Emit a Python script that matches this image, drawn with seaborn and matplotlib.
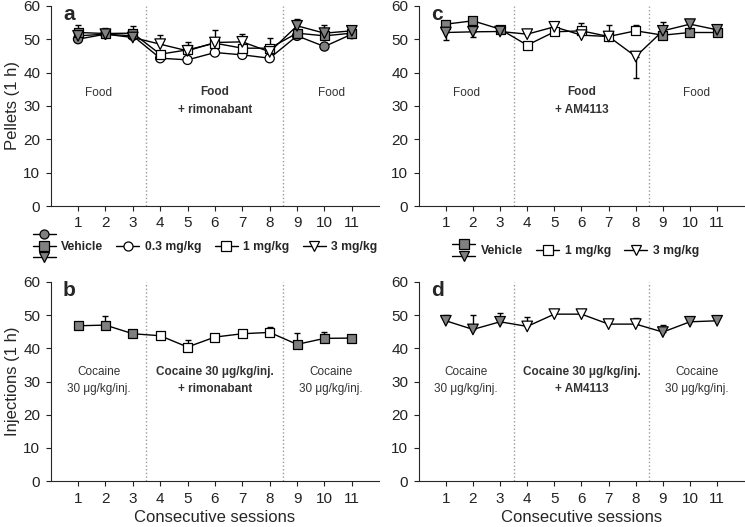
import numpy as np
import pandas as pd
import matplotlib
matplotlib.use("Agg")
import matplotlib.pyplot as plt
from matplotlib.lines import Line2D
from matplotlib.legend_handler import HandlerBase
import seaborn as sns

# data
sessions = list(range(1, 12))
phase = ["base"] * 3 + ["drug"] * 5 + ["base"] * 3

# panel a: food + rimonabant (pellets)
a_03 = [50.0, 51.5, 51.0, 44.3, 43.8, 46.0, 45.3, 44.3, 51.0, 47.8, 51.5]
a_1 = [52.0, 51.7, 51.8, 45.5, 46.8, 48.8, 47.3, 47.3, 51.8, 51.0, 51.8]
a_3 = [51.0, 51.5, 50.5, 48.5, 46.5, 49.0, 49.2, 46.2, 54.0, 51.8, 52.5]
a_1_err = [2.3, 1.5, 2.0, 0, 0, 0, 0, 0, 0, 0, 1.8]       # + up, - down
a_3_err = [0, 0, 0, 2.8, 2.6, 3.6, 2.3, 4.1, 2.1, 2.5, 0]

# panel c: food + AM4113 (pellets)
c_1 = [54.5, 55.5, 53.0, 48.2, 52.2, 52.5, 50.8, 52.5, 51.2, 52.0, 52.0]
c_3 = [52.0, 52.2, 52.3, 51.5, 53.7, 51.2, 50.8, 44.8, 52.5, 54.5, 52.8]
c_1_err = [0, 0, 0, 0, 0, 2.3, 0, 1.8, 0, 0, 0]
c_3_err = [-2.2, -1.6, 0, 1.5, 0, 0, 3.3, -6.5, 2.7, 0, 0]

# panel b: cocaine + rimonabant (injections)
b_1 = [46.8, 47.0, 44.4, 43.8, 40.4, 43.4, 44.4, 44.8, 41.2, 43.0, 43.1]
b_1_err = [0, 2.6, 0, 0, 2.2, 0, 0, 1.5, 3.3, 2.0, 0.8]

# panel d: cocaine + AM4113 (injections)
d_3 = [48.3, 45.7, 48.0, 46.6, 50.3, 50.3, 47.3, 47.3, 44.9, 48.0, 48.3]
d_3_err = [1.7, 4.3, 2.5, 2.7, 0, 0, 0, 1.8, 2.1, 0, 0]

rows = []
for panel, series, vals, errs in [
    ("a", "0.3", a_03, [0] * 11), ("a", "1", a_1, a_1_err), ("a", "3", a_3, a_3_err),
    ("c", "1", c_1, c_1_err), ("c", "3", c_3, c_3_err),
    ("b", "1", b_1, b_1_err), ("d", "3", d_3, d_3_err),
]:
    for s, p, v, e in zip(sessions, phase, vals, errs):
        rows.append(dict(panel=panel, series=series, session=s, phase=p, value=v, err=e))
df = pd.DataFrame(rows)

sns.set_style("ticks")
plt.rcParams["font.family"] = ["Liberation Sans", "DejaVu Sans"]

GRAY = "#808080"
markers = {"0.3": "o", "1": "s", "3": "v"}
sizes = {"0.3": 44, "1": 42, "3": 58}

fig = plt.figure(figsize=(7.45, 5.27), dpi=100)
ax_a = fig.add_axes([0.068, 0.609, 0.441, 0.38])
ax_c = fig.add_axes([0.562, 0.609, 0.437, 0.38])
ax_b = fig.add_axes([0.068, 0.087, 0.441, 0.378])
ax_d = fig.add_axes([0.562, 0.087, 0.437, 0.378])


def draw(ax, sub):
    for name, g in sub.groupby("series"):
        sns.lineplot(data=g, x="session", y="value", color="black", lw=1,
                     ax=ax, zorder=2, legend=False)
        up = g[g.err > 0]
        dn = g[g.err < 0]
        if len(up):
            ax.errorbar(up.session, up.value, yerr=[np.zeros(len(up)), up.err],
                        fmt="none", ecolor="black", elinewidth=1, capsize=2.5, zorder=1.5)
        if len(dn):
            ax.errorbar(dn.session, dn.value, yerr=[-dn.err, np.zeros(len(dn))],
                        fmt="none", ecolor="black", elinewidth=1, capsize=2.5, zorder=1.5)
    for name, g in sub.groupby("series"):
        sns.scatterplot(data=g, x="session", y="value", hue="phase",
                        palette={"base": GRAY, "drug": "white"}, marker=markers[name],
                        s=sizes[name], edgecolor="black", linewidth=0.9,
                        ax=ax, zorder=3, legend=False)


for ax, key in [(ax_a, "a"), (ax_c, "c"), (ax_b, "b"), (ax_d, "d")]:
    draw(ax, df[df.panel == key])
    ax.set_xlim(0, 12)
    ax.set_ylim(0, 60)
    ax.set_xticks(sessions)
    ax.set_yticks(range(0, 61, 10))
    ax.tick_params(labelsize=11, length=3.5, width=0.8, pad=4, colors="#222222")
    for x in (3.5, 8.5):
        ax.axvline(x, color="#999999", ls=":", lw=1, zorder=0)
    sns.despine(ax=ax)
    ax.set_xlabel("")
    ax.set_ylabel("")
    ax.text(0.45, 57.5, key, fontsize=15, fontweight="bold", va="center")

ax_a.set_ylabel("Pellets (1 h)", fontsize=12)
ax_b.set_ylabel("Injections (1 h)", fontsize=12)
ax_a.yaxis.set_label_coords(-0.092, 0.5)
ax_b.yaxis.set_label_coords(-0.092, 0.5)
ax_b.set_xlabel("Consecutive sessions", fontsize=12, labelpad=3)
ax_d.set_xlabel("Consecutive sessions", fontsize=12, labelpad=3)

tkw = dict(fontsize=8.5, ha="center", va="center", color="#333333", linespacing=1.6)
for ax, drug in [(ax_a, "rimonabant"), (ax_c, "AM4113")]:
    ax.text(1.75, 34, "Food", **tkw)
    ax.text(10.25, 34, "Food", **tkw)
    ax.text(6, 31.5, "Food\n+ " + drug, fontweight="bold", **tkw)
for ax, drug in [(ax_b, "rimonabant"), (ax_d, "AM4113")]:
    ax.text(1.75, 30.3, "Cocaine\n30 μg/kg/inj.", **tkw)
    ax.text(10.25, 30.3, "Cocaine\n30 μg/kg/inj.", **tkw)
    ax.text(6, 30.3, "Cocaine 30 μg/kg/inj.\n+ " + drug, fontweight="bold", **tkw)


# legends with stacked vehicle markers
class Stack:
    def __init__(self, marks):
        self.marks = marks


class StackHandler(HandlerBase):
    def create_artists(self, legend, orig_handle, xdescent, ydescent,
                       width, height, fontsize, trans):
        n = len(orig_handle.marks)
        step = 8.2
        out = []
        for i, m in enumerate(orig_handle.marks):
            y = height / 2 - ydescent + (n - 1) / 2 * step - i * step
            ln = Line2D([-xdescent, width - xdescent], [y, y], color="black", lw=1)
            mk = Line2D([width / 2 - xdescent], [y], marker=m, ms=6.5, mfc=GRAY,
                        mec="black", mew=0.9, ls="none")
            ln.set_transform(trans)
            mk.set_transform(trans)
            out += [ln, mk]
        return out


def open_handle(m):
    return Line2D([], [], color="black", lw=1, marker=m, ms=6.5, mfc="white",
                  mec="black", mew=0.9)


lkw = dict(frameon=False, handlelength=1.9, handletextpad=0.45, columnspacing=1.1,
           prop={"size": 8.7, "weight": "bold"}, handler_map={Stack: StackHandler()},
           loc="center left")
ax_a.legend([Stack(["o", "s", "v"]), open_handle("o"), open_handle("s"), open_handle("v")],
            ["Vehicle", "0.3 mg/kg", "1 mg/kg", "3 mg/kg"], ncol=4,
            bbox_to_anchor=(-0.088, -0.205), **lkw)
ax_c.legend([Stack(["s", "v"]), open_handle("s"), open_handle("v")],
            ["Vehicle", "1 mg/kg", "3 mg/kg"], ncol=3,
            bbox_to_anchor=(0.07, -0.225), **lkw)

fig.savefig("out.png", dpi=100)
